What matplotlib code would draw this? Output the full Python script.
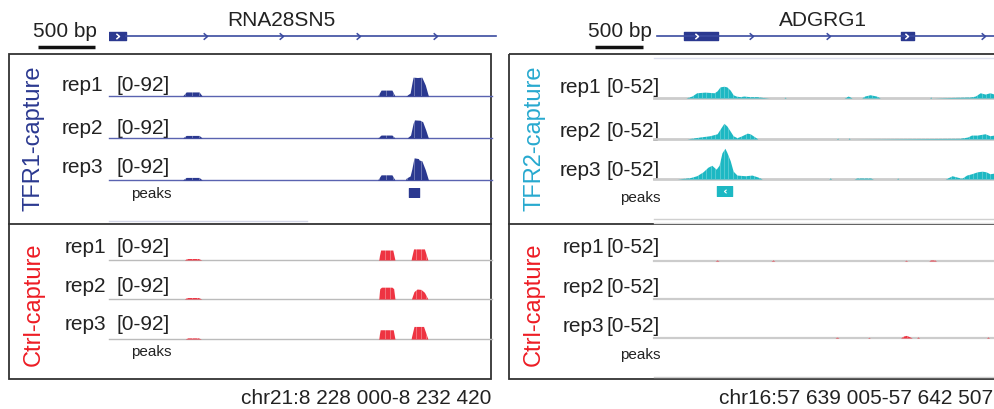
import matplotlib
matplotlib.use('Agg')
import matplotlib.pyplot as plt
from matplotlib.patches import Rectangle
from matplotlib.path import Path
import numpy as np

plt.rcParams['font.family'] = ['Liberation Sans', 'DejaVu Sans']

W, H = 994, 409

# genomic windows
left_locus = 'chr21:8 228 000-8 232 420'
left_len = 8232420 - 8228000
right_locus = 'chr16:57 639 005-57 642 507'
right_len = 57642507 - 57639005

# gene models (bp offsets from window start)
left_gene = 'RNA28SN5'
left_exons = [(0, 196)]
left_intron = (196, 4470)
left_chevrons = [1131, 2008, 2897, 3785]
left_exon_chevrons = [110]

right_gene = 'ADGRG1'
right_exons = [(309, 659), (2544, 2678)]
right_intron = (31, 3600)
right_chevrons = [1020, 1813, 3409]
right_exon_chevrons = [453, 2616]

# coverage, TFR1-capture vs Ctrl-capture on RNA28SN5, range [0-92]
tfr1_max = 92
tfr1_rep1_pos = [850, 890, 1040, 1075, 3100, 3140, 3265, 3300, 3425, 3475, 3500, 3510, 3560, 3610, 3650, 3680, 3690]
tfr1_rep1_val = [0, 11, 11, 0, 0, 16, 16, 0, 0, 8, 40, 51, 50, 51, 30, 5, 0]
tfr1_rep2_pos = [850, 890, 1040, 1075, 3100, 3140, 3265, 3300, 3440, 3480, 3510, 3525, 3590, 3620, 3655, 3680, 3690]
tfr1_rep2_val = [0, 7, 7, 0, 0, 8, 8, 0, 0, 8, 40, 49, 48, 44, 22, 4, 0]
tfr1_rep3_pos = [850, 890, 1040, 1075, 3100, 3140, 3265, 3300, 3420, 3430, 3475, 3495, 3520, 3570, 3580, 3610, 3650, 3680, 3690]
tfr1_rep3_val = [0, 7, 7, 0, 0, 14, 14, 0, 0, 5, 11, 30, 60, 58, 54, 52, 28, 5, 0]

ctrl1_rep1_pos = [870, 900, 1030, 1070, 3110, 3135, 3275, 3300, 3485, 3515, 3640, 3680]
ctrl1_rep1_val = [0, 4, 4, 0, 0, 27, 27, 0, 0, 30, 30, 0]
ctrl1_rep2_pos = [870, 900, 1030, 1070, 3110, 3125, 3145, 3265, 3285, 3300, 3490, 3520, 3555, 3600, 3640, 3680]
ctrl1_rep2_val = [0, 4, 4, 0, 0, 28, 32, 32, 28, 0, 0, 20, 27, 26, 18, 0]
ctrl1_rep3_pos = [880, 905, 1030, 1065, 3110, 3130, 3280, 3300, 3485, 3520, 3630, 3680]
ctrl1_rep3_val = [0, 3, 3, 0, 0, 25, 25, 0, 0, 34, 34, 0]

# coverage, TFR2-capture vs Ctrl-capture on ADGRG1, range [0-52]
tfr2_max = 52
tfr2_rep1_pos = [330, 390, 440, 525, 620, 650, 680, 720, 750, 785, 815, 845, 885, 925, 990, 1060, 1110, 1190,
                 1340, 1350, 1360, 1960, 2000, 2040, 2140, 2170, 2225, 2290, 2330, 2840, 2850, 2860,
                 3120, 3260, 3310, 3360, 3410, 3460, 3502]
tfr2_rep1_val = [0, 3, 8, 9, 8, 11, 17, 18, 17, 12, 5, 3, 2, 3, 2, 2, 1, 0,
                 0, 1.5, 0, 0, 3, 0, 0, 3, 5, 3, 0, 0, 1.5, 0,
                 1, 1.5, 3, 8, 6, 8, 6]
tfr2_rep2_pos = [340, 470, 575, 650, 680, 720, 750, 785, 815, 855, 905, 960, 990, 1040, 1070,
                 1880, 1890, 1900, 2000, 2010, 2020, 3150, 3230, 3270, 3330, 3410, 3460, 3502]
tfr2_rep2_val = [0, 3, 5, 8, 15, 24, 20, 12, 5, 2, 5, 9, 8, 3, 0,
                 0, 1.5, 0, 0, 1.5, 0, 1, 3, 6, 6, 8, 5, 6]
tfr2_rep3_pos = [240, 370, 440, 505, 555, 595, 640, 670, 700, 730, 750, 785, 815, 855, 940, 1010, 1070, 1115,
                 1800, 1815, 1830, 2060, 2090, 2230, 2260, 2500, 2510, 2520,
                 3000, 3030, 3070, 3120, 3170, 3220, 3270, 3330, 3380, 3420, 3460, 3502]
tfr2_rep3_val = [0, 2, 5, 11, 18, 21, 15, 21, 40, 47, 41, 28, 12, 6, 5, 6, 3, 0,
                 0, 1.5, 0, 0, 1.5, 1.5, 0, 0, 1.5, 0,
                 0, 2, 5, 3, 1, 6, 8, 11, 12, 11, 8, 9]

ctrl2_rep1_pos = [630, 650, 670, 1205, 1225, 1245, 2580, 2596, 2612, 2830, 2850, 2890, 2910]
ctrl2_rep1_val = [0, 1.5, 0, 0, 1.5, 0, 0, 1.2, 0, 0, 1.5, 1.5, 0]
ctrl2_rep2_pos = [0, 3502]
ctrl2_rep2_val = [0, 0]
ctrl2_rep3_pos = [1865, 1885, 1905, 2200, 2214, 2228, 2540, 2570, 2600, 2630, 2660, 2705, 2719, 2735, 3425, 3440, 3455]
ctrl2_rep3_val = [0, 1.5, 0, 0, 1, 0, 0, 3, 4, 2, 0, 0, 1.5, 0, 0, 1.5, 0]

# called peaks
tfr1_peaks = [(3462, 115)]
tfr2_peaks = [(649, 154)]

BLUE = '#2b3990'
CYAN = '#1db8c3'
RED = '#ee3442'
LABEL_CYAN = '#27a9cf'
LABEL_RED = '#ed1c24'

fig = plt.figure(figsize=(W / 100, H / 100), dpi=100)


def px_axes(x0, y0, x1, y1):
    ax = fig.add_axes([x0 / W, 1 - y1 / H, (x1 - x0) / W, (y1 - y0) / H])
    ax.axis('off')
    return ax


frame = px_axes(0, 0, W, H)
frame.set_xlim(0, W)
frame.set_ylim(H, 0)

# panel boxes
for bx, bw in ((9, 482), (509, 600)):
    frame.add_patch(Rectangle((bx, 54), bw, 325, fill=False, lw=1.3, ec='#333333'))
    frame.plot([bx, bx + bw], [224, 224], color='#333333', lw=1.3)

# faint track borders
frame.plot([109, 307], [221, 221], color='#d3d6e6', lw=1)
frame.plot([654, 994], [58, 58], color='#dde0ee', lw=1)
frame.plot([654, 994], [219, 219], color='#d0d0d0', lw=1)
frame.plot([654, 994], [222.5, 222.5], color='#e0e0e0', lw=1)
frame.plot([654, 994], [377, 377], color='#d0d0d0', lw=1)

# scale bars
frame.plot([38, 95], [47, 47], color='#111111', lw=2.5, solid_capstyle='butt')
frame.plot([595, 643], [47, 47], color='#111111', lw=2.5, solid_capstyle='butt')
frame.text(65, 37, '500 bp', fontsize=15, ha='center', va='baseline', color='#222222')
frame.text(620, 37, '500 bp', fontsize=15, ha='center', va='baseline', color='#222222')

frame.text(281, 26, left_gene, fontsize=15, ha='center', va='baseline', color='#222222')
frame.text(823, 26, right_gene, fontsize=15, ha='center', va='baseline', color='#222222')

frame.text(491, 404, left_locus, fontsize=15, ha='right', va='baseline', color='#222222')
frame.text(993, 404, right_locus, fontsize=15, ha='right', va='baseline', color='#222222')

# group labels
frame.text(34, 138, 'TFR1-capture', fontsize=17, rotation=90, ha='center', va='center', color=BLUE)
frame.text(34, 304, 'Ctrl-capture', fontsize=17, rotation=90, ha='center', va='center', color=LABEL_RED)
frame.text(534, 138, 'TFR2-capture', fontsize=17, rotation=90, ha='center', va='center', color=LABEL_CYAN)
frame.text(534, 304, 'Ctrl-capture', fontsize=17, rotation=90, ha='center', va='center', color=LABEL_RED)

chevron = Path([(-1, 0.85), (0, 0), (-1, -0.85)], [Path.MOVETO, Path.LINETO, Path.LINETO])
chevron_left = Path([(1, 0.85), (0, 0), (1, -0.85)], [Path.MOVETO, Path.LINETO, Path.LINETO])


def draw_gene(x0, x1, length, exons, intron, chevrons, exon_chevrons):
    ax = px_axes(x0, 28, x1, 44)
    ax.set_xlim(0, length)
    ax.set_ylim(-1, 1)
    ax.plot(intron, [0, 0], color='#3b4ba0', lw=1.2, clip_on=False)
    ax.broken_barh([(a, b - a) for a, b in exons], (-0.56, 1.12), color=BLUE)
    ax.plot(chevrons, [0] * len(chevrons), ls='none', marker=chevron, ms=5.5,
            mfc='none', mec='#3b4ba0', mew=1.1)
    ax.plot(exon_chevrons, [0] * len(exon_chevrons), ls='none', marker=chevron, ms=4.5,
            mfc='none', mec='white', mew=1.1)


draw_gene(109, 492, left_len, left_exons, left_intron, left_chevrons, left_exon_chevrons)
draw_gene(654, 994, right_len, right_exons, right_intron, right_chevrons, right_exon_chevrons)


def draw_track(x0, x1, length, base_y, ymax, pos, val, color, base_color, base_lw, stripe, bin_bp):
    ax = px_axes(x0, base_y - 34, x1, base_y)
    ax.set_xlim(0, length)
    ax.set_ylim(0, ymax)
    ax.axhline(0, color=base_color, lw=base_lw, clip_on=False, zorder=1)
    poly = ax.fill_between(pos, val, color=color, lw=0, zorder=2)
    # bin edges show through the bars, as in the genome browser
    edges = ax.vlines(np.arange(0, length, bin_bp), 0, ymax, colors=stripe[0],
                      alpha=stripe[1], lw=0.7, zorder=3)
    edges.set_clip_path(poly.get_paths()[0], ax.transData)


def draw_peaks(x0, x1, length, y0, y1, peaks, color, mark=False):
    ax = px_axes(x0, y0, x1, y1)
    ax.set_xlim(0, length)
    ax.set_ylim(0, 1)
    ax.broken_barh(peaks, (0, 1), color=color)
    if mark:
        ax.plot([s + w / 2 for s, w in peaks], [0.5] * len(peaks), ls='none', marker=chevron_left,
                ms=3, mfc='none', mec='white', mew=0.8)


# left panel
left_groups = [
    ([96, 138, 180], [91, 134, 173], 62,
     [(tfr1_rep1_pos, tfr1_rep1_val), (tfr1_rep2_pos, tfr1_rep2_val), (tfr1_rep3_pos, tfr1_rep3_val)],
     BLUE, '#5a63b0', 1.0, ('white', 0.3), 80),
    ([260, 299, 339], [253, 292, 330], 65,
     [(ctrl1_rep1_pos, ctrl1_rep1_val), (ctrl1_rep2_pos, ctrl1_rep2_val), (ctrl1_rep3_pos, ctrl1_rep3_val)],
     RED, '#bbbbbb', 1.0, ('white', 0.3), 60),
]
for bases, label_ys, rep_x, tracks, col, bcol, blw, stripe, bin_bp in left_groups:
    for i, (by, ly, (p, v)) in enumerate(zip(bases, label_ys, tracks)):
        draw_track(109, 492, left_len, by, tfr1_max, p, v, col, bcol, blw, stripe, bin_bp)
        frame.text(rep_x, ly, f'rep{i + 1}', fontsize=15, ha='left', va='baseline', color='#222222')
        frame.text(170, ly, f'[0-{tfr1_max}]', fontsize=15, ha='right', va='baseline', color='#222222')

draw_peaks(109, 492, left_len, 188, 197, tfr1_peaks, BLUE)
frame.text(151, 194, 'peaks', fontsize=11, ha='center', va='center', color='#222222')
frame.text(151, 352, 'peaks', fontsize=11, ha='center', va='center', color='#222222')

# right panel
right_groups = [
    ([98, 139, 179], [93, 137, 176], 560,
     [(tfr2_rep1_pos, tfr2_rep1_val), (tfr2_rep2_pos, tfr2_rep2_val), (tfr2_rep3_pos, tfr2_rep3_val)],
     CYAN, '#cccccc', 2.0, ('white', 0.25), 45),
    ([261, 299, 338], [253, 293, 332], 563,
     [(ctrl2_rep1_pos, ctrl2_rep1_val), (ctrl2_rep2_pos, ctrl2_rep2_val), (ctrl2_rep3_pos, ctrl2_rep3_val)],
     RED, '#cccccc', 1.6, ('white', 0.25), 45),
]
for bases, label_ys, rep_x, tracks, col, bcol, blw, stripe, bin_bp in right_groups:
    for i, (by, ly, (p, v)) in enumerate(zip(bases, label_ys, tracks)):
        draw_track(654, 994, right_len, by, tfr2_max, p, v, col, bcol, blw, stripe, bin_bp)
        frame.text(rep_x, ly, f'rep{i + 1}', fontsize=15, ha='left', va='baseline', color='#222222')
        frame.text(660, ly, f'[0-{tfr2_max}]', fontsize=15, ha='right', va='baseline', color='#222222')

draw_peaks(654, 994, right_len, 186, 196, tfr2_peaks, CYAN, mark=True)
frame.text(640, 198, 'peaks', fontsize=11, ha='center', va='center', color='#222222')
frame.text(640, 355, 'peaks', fontsize=11, ha='center', va='center', color='#222222')

fig.savefig('out.png', dpi=100)
